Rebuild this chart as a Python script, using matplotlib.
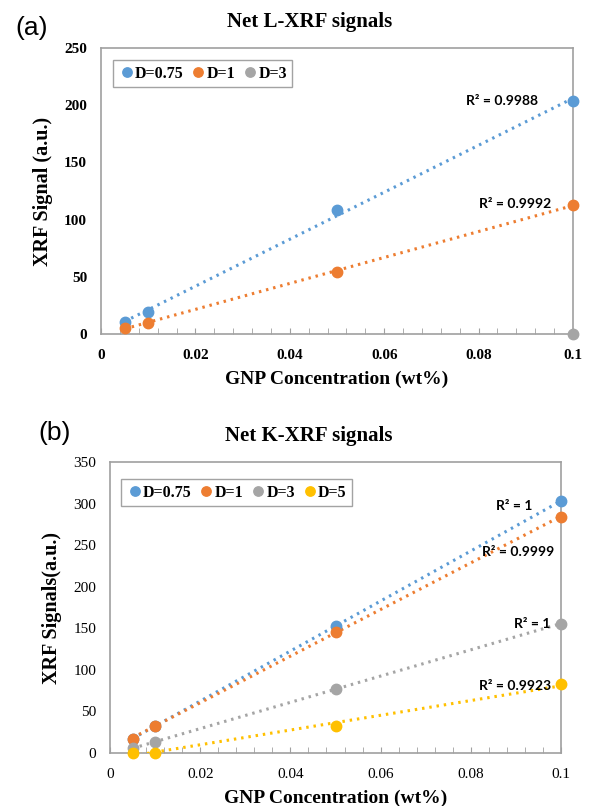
import numpy as np
import matplotlib
matplotlib.use('Agg')
import matplotlib.pyplot as plt
from matplotlib.ticker import MultipleLocator

# 데이터
conc = [0.005, 0.01, 0.05, 0.1]

# (a) Net L-XRF
l_labels = ['D=0.75', 'D=1', 'D=3']
l_d075 = [10.7, 18.9, 108, 204]
l_d1 = [5.5, 10, 54, 113]
l_d3 = [np.nan, np.nan, np.nan, 0]
l_r2 = ['R² = 0.9988', 'R² = 0.9992', None]
l_r2_pos = [(0.0849, 204), (0.0878, 113.6), None]

# (b) Net K-XRF
k_labels = ['D=0.75', 'D=1', 'D=3', 'D=5']
k_d075 = [17, 32.5, 153, 303]
k_d1 = [17, 33, 146, 284]
k_d3 = [6, 13, 77, 155.6]
k_d5 = [0, 0, 32, 83]
k_r2 = ['R² = 1', 'R² = 0.9999', 'R² = 1', 'R² = 0.9923']
k_r2_pos = [(0.0897, 297.5), (0.0904, 242), (0.0937, 155.6), (0.0898, 81)]

colors = ['#5B9BD5', '#ED7D31', '#A5A5A5', '#FFC000']
serif = 'Liberation Serif'
W, H = 589, 806

fig = plt.figure(figsize=(W / 100, H / 100), dpi=100)


def px_axes(l, t, r, b):
    return fig.add_axes([l / W, 1 - b / H, (r - l) / W, (b - t) / H])


def draw_panel(ax, series, labels, r2s, r2pos, ymax, ystep, bold_ticks, ncol, leg_box):
    for i, (y, lab) in enumerate(zip(series, labels)):
        y = np.array(y, dtype=float)
        ok = ~np.isnan(y)
        x = np.array(conc)[ok]
        ax.plot(x, y[ok], 'o', color=colors[i], ms=7.5, label=lab, clip_on=False, zorder=4)
        if r2s[i] is not None and ok.sum() > 1:
            k, c = np.polyfit(x, y[ok], 1)
            xs = np.array([conc[0], conc[-1]])
            ax.plot(xs, k * xs + c, color=colors[i], lw=2.2,
                    linestyle=(0, (0.8, 1.6)), zorder=3)
            ax.text(r2pos[i][0], r2pos[i][1], r2s[i], ha='center', va='center',
                    fontsize=10, fontweight='bold', family='Lato', zorder=5)
    ax.set_xlim(0, 0.1)
    ax.set_ylim(0, ymax)
    ax.xaxis.set_major_locator(MultipleLocator(0.02))
    ax.xaxis.set_minor_locator(MultipleLocator(0.004))
    ax.yaxis.set_major_locator(MultipleLocator(ystep))
    ax.tick_params(axis='x', which='both', direction='in', length=4, color='#a0a0a0', pad=11)
    ax.tick_params(axis='y', which='both', length=0, pad=10)
    ax.tick_params(top=False, right=False)
    for s in ax.spines.values():
        s.set_color('#a0a0a0')
        s.set_linewidth(1.2)
    ax.xaxis.set_major_formatter(plt.FuncFormatter(lambda v, p: '0' if v == 0 else ('%g' % v)))
    for t in ax.get_xticklabels() + ax.get_yticklabels():
        t.set_family(serif)
        t.set_fontsize(11)
        if bold_ticks:
            t.set_fontweight('bold')
    leg = ax.legend(ncol=ncol, loc='upper left', bbox_to_anchor=leg_box,
                    borderaxespad=0, frameon=True, fancybox=False, edgecolor='#8c8c8c',
                    handletextpad=0.0, columnspacing=0.45, borderpad=0.35,
                    handlelength=1.0, markerscale=0.9,
                    prop={'family': serif, 'weight': 'bold', 'size': 11.5})
    leg.get_frame().set_linewidth(1.0)


# (a)
ax1 = px_axes(101, 48, 573, 334)
draw_panel(ax1, [l_d075, l_d1, l_d3], l_labels, l_r2, l_r2_pos, 250, 50, True, 3,
           ((113 - 101) / 472, 1 - (60 - 48) / 286))
ax1.set_xlabel('GNP Concentration (wt%)', family=serif, fontweight='bold', fontsize=14, labelpad=6)
ax1.set_ylabel('XRF Signal (a.u.)', family=serif, fontweight='bold', fontsize=14.5, labelpad=8)
fig.text(310 / W, 1 - 22 / H, 'Net L-XRF signals', ha='center', va='center',
         family=serif, fontweight='bold', fontsize=15)
fig.text(32 / W, 1 - 28 / H, '(a)', ha='center', va='center', family='Liberation Sans', fontsize=19)

# (b)
ax2 = px_axes(110, 462, 561, 753)
draw_panel(ax2, [k_d075, k_d1, k_d3, k_d5], k_labels, k_r2, k_r2_pos, 350, 50, False, 4,
           ((121 - 110) / 451, 1 - (479 - 462) / 291))
ax2.set_xlabel('GNP Concentration (wt%)', family=serif, fontweight='bold', fontsize=14, labelpad=6)
ax2.set_ylabel('XRF Signals(a.u.)', family=serif, fontweight='bold', fontsize=14.5, labelpad=8)
fig.text(309 / W, 1 - 436 / H, 'Net K-XRF signals', ha='center', va='center',
         family=serif, fontweight='bold', fontsize=15)
fig.text(55 / W, 1 - 433 / H, '(b)', ha='center', va='center', family='Liberation Sans', fontsize=19)

fig.savefig('out.png', dpi=100)
